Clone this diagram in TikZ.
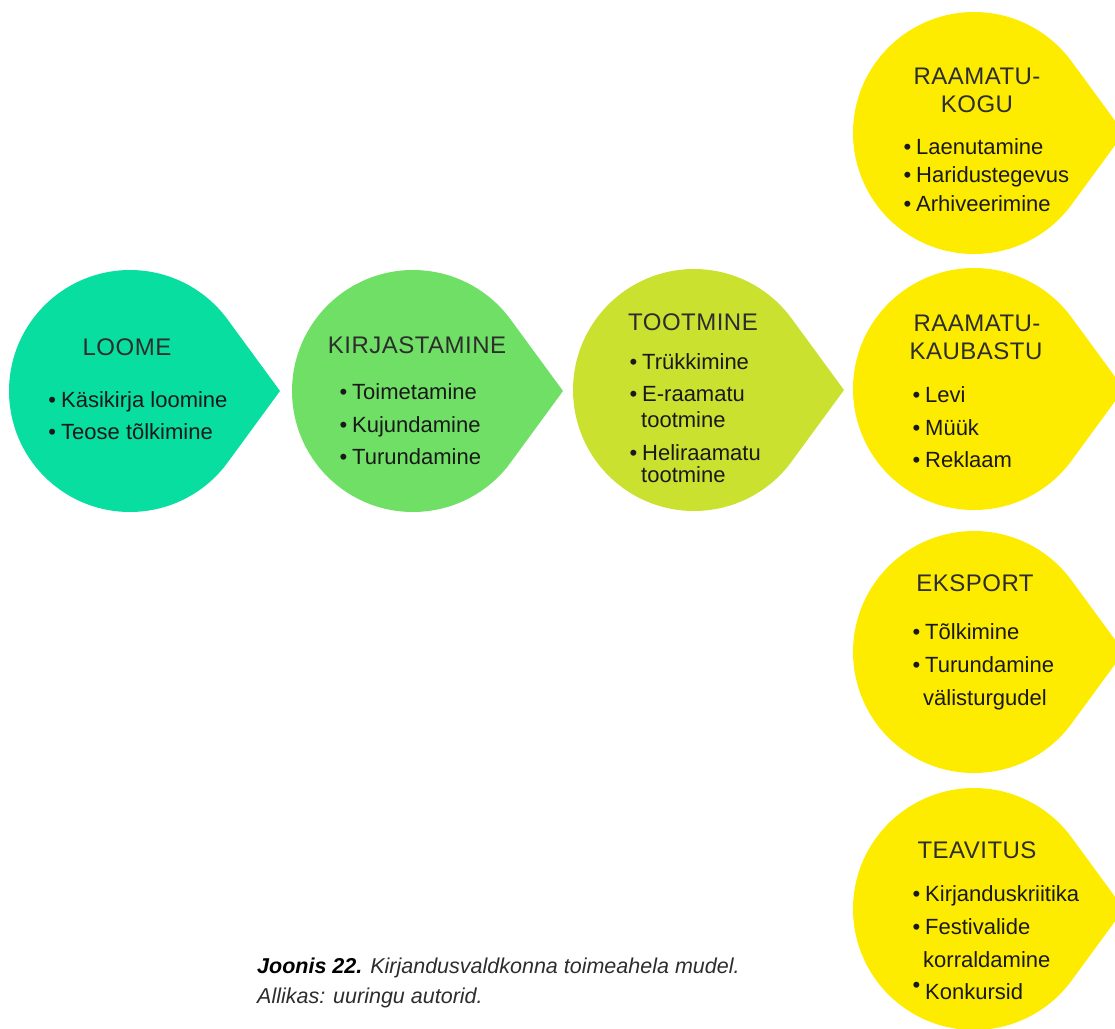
\documentclass[tikz,border=0pt]{standalone}
\usepackage{fontspec}
\setmainfont{Liberation Sans}
\usepackage{tikz}
\definecolor{loomecol}{RGB}{8,222,159}
\definecolor{kirjcol}{RGB}{111,224,101}
\definecolor{tootcol}{RGB}{203,225,48}
\definecolor{levicol}{RGB}{253,235,0}
\definecolor{titlecol}{RGB}{45,45,45}
\definecolor{textcol}{RGB}{25,25,25}
% circle with a point on the right: centre x, centre y, colour
\newcommand{\drop}[3]{\fill[#3] (#1,#2) ++(36.2:121) arc[start angle=36.2,end angle=323.8,radius=121] -- (#1+150,#2) -- cycle;}
\newcommand{\bul}{\llap{\textbullet\hspace{5pt}}}
\newcommand{\hibul}{\llap{\raisebox{6.5pt}{\textbullet}\hspace{5pt}}}

\begin{document}
\begin{tikzpicture}[x=1pt,y=-1pt]
\tikzstyle{title}=[inner sep=0pt,anchor=base,text=titlecol,font=\fontsize{24}{28}\selectfont\addfontfeature{LetterSpace=2}]
\tikzstyle{item}=[inner sep=0pt,anchor=base west,text=textcol,font=\fontsize{22}{26}\selectfont]
\tikzstyle{caption}=[inner sep=0pt,anchor=base west,text=titlecol,font=\fontsize{21.5}{26}\selectfont\itshape]

\useasboundingbox (0,0) rectangle (1115,1028);
\clip (0,0) rectangle (1115,1028);

\drop{130}{391}{loomecol}
\drop{413}{391}{kirjcol}
\drop{694}{390}{tootcol}
\drop{974}{133}{levicol}
\drop{974}{389}{levicol}
\drop{974}{652}{levicol}
\drop{974}{909}{levicol}

% loome
\node[title] (loome) at (127,355) {LOOME};
\node[item] (loome1) at (61,407) {\bul Käsikirja loomine};
\node[item] (loome2) at (61,439) {\bul Teose tõlkimine};

% kirjastamine
\node[title] (kirj) at (417,353) {KIRJASTAMINE};
\node[item] (kirj1) at (352,399) {\bul Toimetamine};
\node[item] (kirj2) at (352,432) {\bul Kujundamine};
\node[item] (kirj3) at (352,464) {\bul Turundamine};

% tootmine
\node[title] (toot) at (693,330) {TOOTMINE};
\node[item] (toot1) at (642,369) {\bul Trükkimine};
\node[item] (toot2) at (642,401) {\bul E-raamatu};
\node[item] (toot2b) at (641,427) {tootmine};
\node[item] (toot3) at (642,460) {\bul Heliraamatu};
\node[item] (toot3b) at (641,482) {tootmine};

% raamatukogu
\node[title] (rk) at (977,84) {RAAMATU-};
\node[title] (rkb) at (977,112) {KOGU};
\node[item] (rk1) at (916,154) {\bul Laenutamine};
\node[item] (rk2) at (916,182) {\bul Haridustegevus};
\node[item] (rk3) at (916,211) {\bul Arhiveerimine};

% raamatukaubastu
\node[title] (kb) at (977,331) {RAAMATU-};
\node[title] (kbb) at (976,359) {KAUBASTU};
\node[item] (kb1) at (925,402) {\bul Levi};
\node[item] (kb2) at (925,435) {\bul Müük};
\node[item] (kb3) at (925,467) {\bul Reklaam};

% eksport
\node[title] (eks) at (975,591) {EKSPORT};
\node[item] (eks1) at (925,639) {\bul Tõlkimine};
\node[item] (eks2) at (925,672) {\bul Turundamine};
\node[item] (eks2b) at (923,705) {välisturgudel};

% teavitus
\node[title] (tea) at (977,858) {TEAVITUS};
\node[item] (tea1) at (925,901) {\bul Kirjanduskriitika};
\node[item] (tea2) at (925,934) {\bul Festivalide};
\node[item] (tea2b) at (923,967) {korraldamine};
\node[item] (tea3) at (925,999) {\hibul Konkursid};

\node[caption] (cap1) at (257,973) {{\color{black}\bfseries Joonis 22.} Kirjandusvaldkonna toimeahela mudel.};
\node[caption] (cap2) at (257,1003) {Allikas: uuringu autorid.};

\end{tikzpicture}
\end{document}
